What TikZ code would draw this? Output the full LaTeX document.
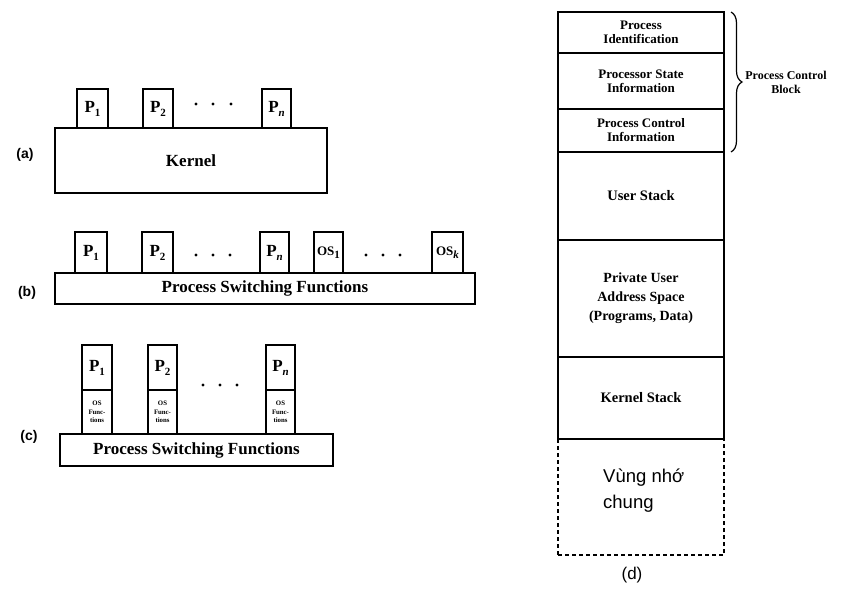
\documentclass[tikz,border=0pt]{standalone}
\usepackage{fontspec}
\setmainfont{Liberation Serif}
\newfontfamily\arialf{Liberation Sans}
\usetikzlibrary{decorations.pathreplacing}
\newcommand\sbs[1]{\raisebox{-0.5ex}{\fontsize{11}{11}\selectfont #1}}
\begin{document}
\begin{tikzpicture}[x=1pt,y=-1pt,
  pbox/.style={draw, line width=1.3pt, inner sep=0pt, font=\bfseries\fontsize{17}{18}\selectfont},
  bar/.style={draw, line width=1.6pt, inner sep=0pt},
  osbox/.style={draw, line width=1.3pt, inner sep=0pt, align=center, font=\bfseries\fontsize{6.8}{8.5}\selectfont},
  col/.style={draw, line width=1.6pt, inner sep=0pt, minimum width=166pt, align=center, font=\bfseries\fontsize{14.5}{16}\selectfont},
  dotc/.style={fill, circle, inner sep=0pt, minimum size=3.4pt},
  lbl/.style={font=\arialf\bfseries\fontsize{14}{16}\selectfont, inner sep=0pt},
  title/.style={font=\bfseries\fontsize{17}{18}\selectfont}
]
\useasboundingbox (0,0) rectangle (855,596);

% ---------- (a)
\node[bar, minimum width=272pt, minimum height=65pt, title] (kernel) at (191,160.5) {Kernel};
\node[pbox, minimum width=31pt, minimum height=39pt] (aP1) at (92.5,108.5) {P\sbs{1}};
\node[pbox, minimum width=30pt, minimum height=39pt] (aP2) at (158,108.5) {P\sbs{2}};
\node[pbox, minimum width=29pt, minimum height=39pt] (aPn) at (276.5,108.5) {P\sbs{\itshape n}};
\node[dotc] (ad1) at (196,104) {};
\node[dotc] (ad2) at (213,104) {};
\node[dotc] (ad3) at (231,104) {};
\node[lbl] (la) at (25,155) {(a)};

% ---------- (b)
\node[bar, minimum width=420pt, minimum height=31pt, title] (bbar) at (265,288.5) {Process Switching Functions};
\node[pbox, minimum width=32pt, minimum height=41pt] (bP1) at (91,252.5) {P\sbs{1}};
\node[pbox, minimum width=31pt, minimum height=41pt] (bP2) at (157.5,252.5) {P\sbs{2}};
\node[pbox, minimum width=29pt, minimum height=41pt] (bPn) at (274.5,252.5) {P\sbs{\itshape n}};
\node[pbox, minimum width=29pt, minimum height=41pt, font=\bfseries\fontsize{13}{14}\selectfont] (bOS1) at (328.5,252.5) {OS\sbs{1}};
\node[pbox, minimum width=31pt, minimum height=41pt, font=\bfseries\fontsize{13}{14}\selectfont] (bOSk) at (447.5,252.5) {OS\sbs{\itshape k}};
\node[dotc] (bd1) at (196,255) {};
\node[dotc] (bd2) at (213,255) {};
\node[dotc] (bd3) at (230,255) {};
\node[dotc] (bd4) at (366,255) {};
\node[dotc] (bd5) at (383,255) {};
\node[dotc] (bd6) at (400,255) {};
\node[lbl] (lb) at (27,293) {(b)};

% ---------- (c)
\node[bar, minimum width=273pt, minimum height=32pt, title] (cbar) at (196.5,450) {Process Switching Functions};
\node[pbox, minimum width=30pt, minimum height=45pt] (cP1) at (97,367.5) {P\sbs{1}};
\node[osbox, minimum width=30pt, minimum height=44pt] (cO1) at (97,412) {OS\\Func-\\tions};
\node[pbox, minimum width=29pt, minimum height=45pt] (cP2) at (162.5,367.5) {P\sbs{2}};
\node[osbox, minimum width=29pt, minimum height=44pt] (cO2) at (162.5,412) {OS\\Func-\\tions};
\node[pbox, minimum width=29pt, minimum height=45pt] (cPn) at (280.5,367.5) {P\sbs{\itshape n}};
\node[osbox, minimum width=29pt, minimum height=44pt] (cOn) at (280.5,412) {OS\\Func-\\tions};
\node[dotc] (cd1) at (203,385) {};
\node[dotc] (cd2) at (220,385) {};
\node[dotc] (cd3) at (237,385) {};
\node[lbl] (lc) at (29,437) {(c)};

% ---------- (d)
\node[col, minimum height=41pt, font=\bfseries\fontsize{13}{13.5}\selectfont] (d1) at (641,32.5) {Process\\Identification};
\node[col, minimum height=56pt, font=\bfseries\fontsize{13}{14}\selectfont] (d2) at (641,81) {Processor State\\Information};
\node[col, minimum height=43pt, font=\bfseries\fontsize{13}{14}\selectfont] (d3) at (641,130.5) {Process Control\\Information};
\node[col, minimum height=88pt] (d4) at (641,196) {User Stack};
\node[col, minimum height=117pt, font=\bfseries\fontsize{14}{19}\selectfont] (d5) at (641,298.5) {Private User\\Address Space\\(Programs, Data)};
\node[col, minimum height=82pt] (d6) at (641,398) {Kernel Stack};
\node[draw, dashed, dash pattern=on 4pt off 3pt, line width=1.5pt, inner sep=0pt, minimum width=166pt, minimum height=116pt] (d7) at (641,497) {};
\node[anchor=west, align=left, inner sep=0pt, font=\arialf\fontsize{18.5}{26}\selectfont] (vung) at (603,491) {Vùng nhớ\\chung};
\node[font=\arialf\fontsize{17}{18}\selectfont, inner sep=0pt] (ld) at (632,575) {(d)};

\coordinate (bt) at (731,12);
\coordinate (bb) at (731,152);
\draw[decorate, decoration={brace, amplitude=11pt}, line width=1.2pt] (bt) -- (bb);
\node[align=center, inner sep=0pt, font=\bfseries\fontsize{12}{14}\selectfont] (pcb) at (786,82) {Process Control\\Block};
\end{tikzpicture}
\end{document}
